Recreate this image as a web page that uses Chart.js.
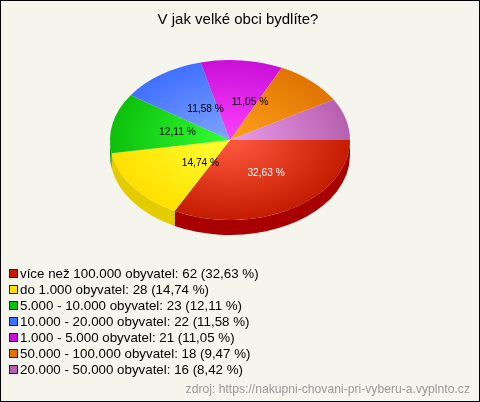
<!DOCTYPE html>
<html><head><meta charset="utf-8">
<style>html,body{margin:0;padding:0;background:#F5F5EE}canvas{display:block;background:#F5F5EE;outline:1px solid #000;outline-offset:-1px}</style>
<script src="https://cdn.jsdelivr.net/npm/chart.js@4"></script>
</head><body>
<canvas id="c" width="480" height="402"></canvas>
<script>
const titleText = 'V jak velké obci bydlíte?';
const sourceText = 'zdroj: https://nakupni-chovani-pri-vyberu-a.vyplnto.cz';
const categories = ['více než 100.000 obyvatel','do 1.000 obyvatel','5.000 - 10.000 obyvatel','10.000 - 20.000 obyvatel','1.000 - 5.000 obyvatel','50.000 - 100.000 obyvatel','20.000 - 50.000 obyvatel'];
const counts = [62,28,23,22,21,18,16];
const percents = ['32,63','14,74','12,11','11,58','11,05','9,47','8,42'];
const lightColors = ['#FF5A40','#FFFF33','#33FF33','#80A4FF','#FF40FF','#FFA020','#EA9CEA'];
const rimColors = ['#C41C00','#FFE000','#0CC00C','#4070FF','#C810D8','#E07400','#B860B0'];
const wallColors = ['#A80000','#E3CC00','#0A9A0A','#3058C0','#9A0CA8','#B05C00','#904C8C'];
const labelColors = ['#fff','#000','#000','#000','#000',null,null];
const labelDx = [5,19,6,10,14,0,0];

const SQUASH = 80/120, DEPTH = 15, ANCHOR_Y = 140;
const FONT = '"Liberation Sans", Arial, sans-serif';
const squash = (chart) => {
  const a = chart.chartArea, cy = (a.top+a.bottom)/2;
  chart.ctx.translate(0, ANCHOR_Y);
  chart.ctx.scale(1, SQUASH);
  chart.ctx.translate(0, -cy);
};
const pie3d = {
  id:'pie3d',
  beforeDatasetsDraw(chart){
    const ctx = chart.ctx;
    chart.getDatasetMeta(0).data.forEach((arc,i)=>{
      const p = arc.getProps(['x','startAngle','endAngle','outerRadius'],true);
      const a0 = Math.max(p.startAngle,0), a1 = Math.min(p.endAngle,Math.PI);
      if(a1<=a0) return;
      const rx = p.outerRadius, ry = rx*SQUASH;
      ctx.save();
      ctx.fillStyle = wallColors[i];
      ctx.beginPath();
      ctx.ellipse(p.x,ANCHOR_Y,rx,ry,0,a0,a1);
      ctx.ellipse(p.x,ANCHOR_Y+DEPTH,rx,ry,0,a1,a0,true);
      ctx.closePath();
      ctx.fill();
      ctx.restore();
    });
  },
  beforeDatasetDraw(chart){ chart.ctx.save(); squash(chart); },
  afterDatasetDraw(chart){ chart.ctx.restore(); },
  afterDatasetsDraw(chart){
    const ctx = chart.ctx;
    ctx.save();
    ctx.font = '10.2px '+FONT;
    ctx.textAlign='center'; ctx.textBaseline='middle';
    chart.getDatasetMeta(0).data.forEach((arc,i)=>{
      if(!labelColors[i]) return;
      const p = arc.getProps(['x','startAngle','endAngle','outerRadius'],true);
      const m = (p.startAngle+p.endAngle)/2;
      ctx.fillStyle = labelColors[i];
      ctx.fillText(percents[i]+' %', p.x+0.5*p.outerRadius*Math.cos(m)+labelDx[i], ANCHOR_Y+0.48*p.outerRadius*SQUASH*Math.sin(m)+0.5);
    });
    ctx.restore();
  },
  afterDraw(chart){
    const ctx = chart.ctx;
    ctx.save();
    ctx.font = '15px '+FONT;
    ctx.textBaseline='middle'; ctx.textAlign='center'; ctx.fillStyle='#000';
    ctx.fillText(titleText,238,20);
    ctx.font = '13.33px '+FONT;
    ctx.textBaseline='middle'; ctx.textAlign='left';
    categories.forEach((c,i)=>{
      const y = 274 + i*16;
      ctx.fillStyle = rimColors[i];
      ctx.fillRect(9.5,y-4.5,8,8);
      ctx.strokeStyle='#222'; ctx.lineWidth=1;
      ctx.strokeRect(9.5,y-4.5,8,8);
      ctx.fillStyle='#000';
      ctx.fillText(`${c}: ${counts[i]} (${percents[i]} %)`,20,y+0.5);
    });
    ctx.font = '12.17px '+FONT;
    ctx.textAlign='right'; ctx.fillStyle='#999';
    ctx.fillText(sourceText,470,389.5);
    ctx.restore();
  }
};
new Chart(document.getElementById('c'),{
  type:'pie',
  data:{labels:categories,datasets:[{data:counts,borderWidth:0,
    backgroundColor(c){
      const ch=c.chart, a=ch.chartArea; if(!a) return rimColors[c.dataIndex];
      const cx=(a.left+a.right)/2, cy=(a.top+a.bottom)/2, r=Math.min(a.right-a.left,a.bottom-a.top)/2;
      const g=ch.ctx.createRadialGradient(cx,cy,0,cx,cy,r);
      g.addColorStop(0,lightColors[c.dataIndex]); g.addColorStop(1,rimColors[c.dataIndex]);
      return g;
    }}]},
  options:{
    responsive:false,devicePixelRatio:1,animation:false,rotation:90,
    layout:{padding:{left:110,right:130,top:30,bottom:132}},
    plugins:{legend:{display:false},tooltip:{enabled:false},title:{display:false}}
  },
  plugins:[pie3d]
});
</script>
</body></html>
